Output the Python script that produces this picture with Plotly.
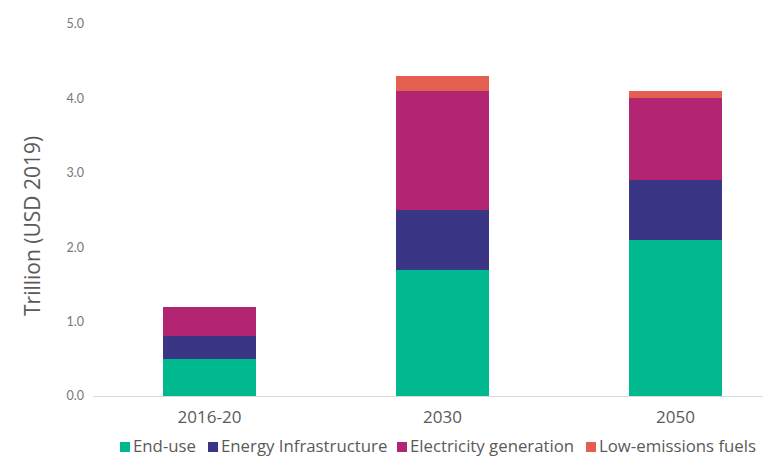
import plotly.graph_objects as go

categories = ["2016-20", "2030", "2050"]
end_use = [0.5, 1.7, 2.1]
energy_infra = [0.3, 0.8, 0.8]
elec_gen = [0.4, 1.6, 1.1]
low_em = [0.0, 0.2, 0.1]
y_ticks = [0, 1, 2, 3, 4, 5]
y_tick_labels = ["0.0", "1.0", "2.0", "3.0", "4.0", "5.0"]

series = [
    ("End-use", end_use, "#00B98E"),
    ("Energy Infrastructure", energy_infra, "#3B3586"),
    ("Electricity generation", elec_gen, "#B22572"),
    ("Low-emissions fuels", low_em, "#E45F4F"),
]

# plot area in pixels (for placing the hand-made legend)
L, R, T, B = 93, 763, 24, 396
def px(x):
    return (x - L) / (R - L)
def py(y):
    return (B - y) / (B - T)

legend_swatch_left = [120, 208, 397, 586]

fig = go.Figure()
for name, vals, col in series:
    fig.add_trace(go.Bar(
        x=categories, y=vals, name=name, width=0.4, showlegend=False,
        marker=dict(color=col, line=dict(width=0)),
    ))

for (name, _, col), sx in zip(series, legend_swatch_left):
    fig.add_shape(type="rect", xref="paper", yref="paper",
                  x0=px(sx), x1=px(sx + 10), y0=py(452), y1=py(442),
                  fillcolor=col, line=dict(width=0))
    fig.add_annotation(
        text=name, xref="paper", yref="paper", x=px(sx + 11), y=py(445),
        xanchor="left", yanchor="middle", showarrow=False,
        font=dict(family="Open Sans, sans-serif", size=16.8, color="#5a5a5a"),
    )

fig.add_annotation(
    text="Trillion (USD 2019)", xref="paper", yref="paper",
    x=px(32), y=py(226), xanchor="center", yanchor="middle",
    textangle=-90, showarrow=False,
    font=dict(family="Open Sans, sans-serif", size=21, color="#5a5a5a"),
)

fig.update_layout(
    barmode="stack",
    width=763, height=456,
    margin=dict(l=L, r=763 - R, t=T, b=456 - B),
    plot_bgcolor="white", paper_bgcolor="white",
    font=dict(family="Lato, Open Sans, sans-serif", color="#666666"),
    showlegend=False,
    xaxis=dict(
        range=[-0.5, 2.376], showgrid=False, showline=True, linecolor="#d9d9d9",
        linewidth=1, ticks="", automargin=False, ticklabelstandoff=6,
        tickfont=dict(family="Open Sans, sans-serif", size=17, color="#5a5a5a"),
    ),
    yaxis=dict(
        range=[0, 5], tickvals=y_ticks, ticktext=y_tick_labels, showgrid=False,
        zeroline=False, showline=False, automargin=False, ticklabelstandoff=8,
        tickfont=dict(size=12.5, color="#777777"),
    ),
)

fig.write_html("out.html", post_script="document.body.style.margin='0';",
               config={"displayModeBar": False})
